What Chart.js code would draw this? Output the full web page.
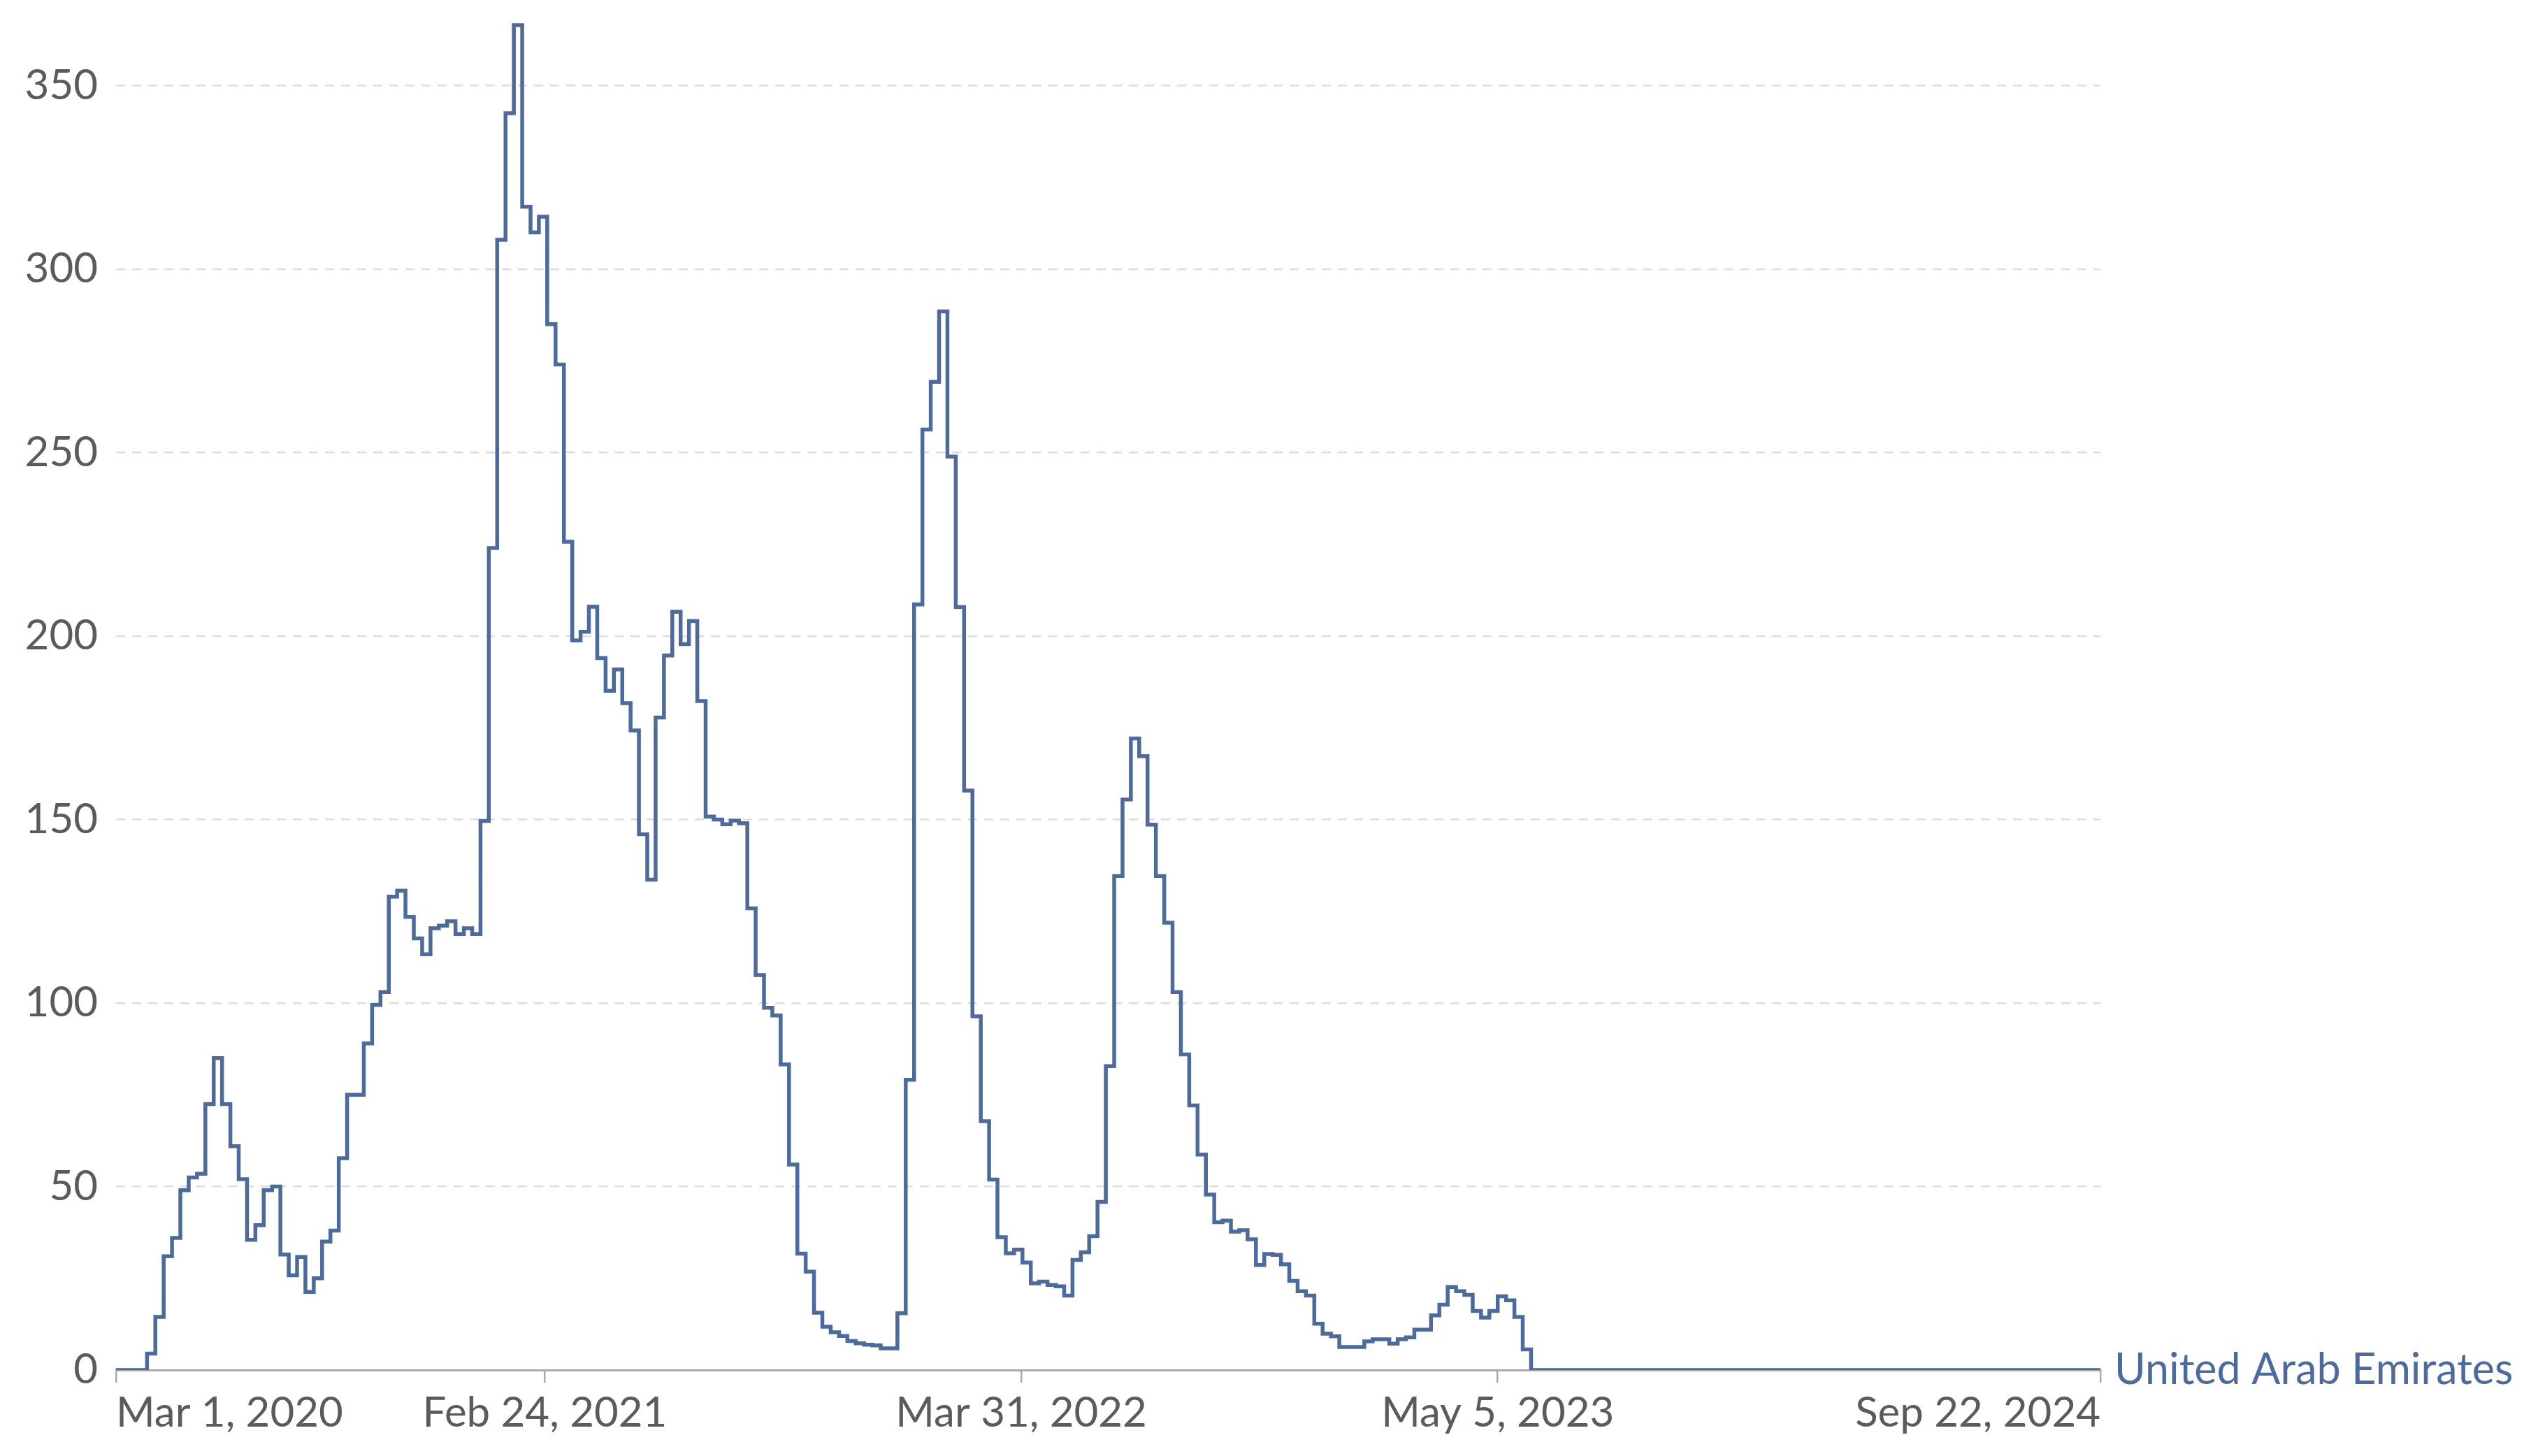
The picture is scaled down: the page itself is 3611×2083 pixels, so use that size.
<!DOCTYPE html>
<html>
<head>
<meta charset="utf-8">
<script src="https://cdn.jsdelivr.net/npm/chart.js@4.4.1/dist/chart.umd.min.js"></script>
<style>
  html, body { margin: 0; padding: 0; background: #ffffff; }
  canvas { display: block; }
</style>
</head>
<body>
<canvas id="chart" width="3611" height="2083"></canvas>
<script>
// ---------- data ----------
const seriesName = 'United Arab Emirates';
const originDate = '2020-03-01';
const firstWeekDate = '2020-03-27';
const endDate = '2024-09-22';
const leadInValue = 0;

const deaths2020 = [4.5, 14.5, 31, 36, 49, 52.5, 53.5, 72.5, 85, 72.5,
  61, 52, 35.5, 39.5, 49, 50, 31.5, 25.8, 30.8, 21.3,
  25, 35, 38, 57.7, 75, 75, 89, 99.5, 103, 129,
  130.6, 123.5, 117.6, 113.3, 120.4, 121.1, 122.3, 118.8, 120.4, 118.8];
const deaths2021 = [149.6, 224, 308, 342.5, 366.5, 317, 310, 314.3, 285, 274,
  225.7, 198.8, 201.2, 208, 194, 185.1, 190.9, 181.7, 174.3, 146,
  133.6, 177.8, 194.7, 206.6, 197.8, 204.1, 182.3, 150.8, 150, 148.7,
  149.7, 149, 125.8, 107.6, 98.7, 96.6, 83.3, 56, 31.7, 26.8,
  15.6, 11.8, 10.3, 9.3, 7.9, 7.3, 6.9, 6.7, 5.9, 5.9,
  15.5, 79.1];
const deaths2022 = [208.6, 256.3, 269.3, 288.5, 248.9, 207.9, 157.9, 96.4, 67.8, 51.9,
  36.2, 31.8, 32.8, 29.3, 23.6, 24.1, 23.2, 22.8, 20.3, 30,
  32.1, 36.5, 45.8, 82.8, 134.6, 155.5, 172.1, 167.3, 148.6, 134.6,
  121.9, 103, 86, 72.1, 58.7, 47.8, 40.3, 40.7, 37.7, 38.1,
  35.6, 28.6, 31.6, 31.4, 28.8, 24.3, 21.5, 20.3, 12.6, 9.9,
  9.2, 6.3];
const deaths2023 = [6.3, 6.3, 7.8, 8.4, 8.4, 7.2, 8.4, 8.9, 11, 11,
  14.9, 17.8, 22.6, 21.5, 20.5, 16.1, 14.3, 16.1, 20.1, 19,
  14.5, 5.6, 0];
const endValue = 0;

const tickDates = ['2020-03-01', '2021-02-24', '2022-03-31', '2023-05-05', '2024-09-22'];
const tickLabels = ['Mar 1, 2020', 'Feb 24, 2021', 'Mar 31, 2022', 'May 5, 2023', 'Sep 22, 2024'];
const yTickValues = [0, 50, 100, 150, 200, 250, 300, 350];

// ---------- helpers ----------
const DAY = 86400000;
const dayOf = d => Math.round((Date.parse(d) - Date.parse(originDate)) / DAY);

const weekly = [...deaths2020, ...deaths2021, ...deaths2022, ...deaths2023];
const firstDay = dayOf(firstWeekDate);
const points = [{ x: 0, y: leadInValue }];
weekly.forEach((v, i) => points.push({ x: firstDay + 7 * i, y: v }));
points.push({ x: dayOf(endDate), y: endValue });

const LINE = '#4C6A9C';
const TEXT = '#5b5b5b';
const FONT = 'Lato, "DejaVu Sans", sans-serif';

const endLabel = {
  id: 'endLabel',
  afterDatasetsDraw(chart) {
    const { ctx, chartArea, scales } = chart;
    const last = points[points.length - 1];
    ctx.save();
    ctx.font = '61px ' + FONT;
    ctx.fillStyle = LINE;
    ctx.textAlign = 'left';
    ctx.textBaseline = 'middle';
    ctx.fillText(seriesName, chartArea.right + 20, scales.y.getPixelForValue(last.y));
    ctx.restore();
  }
};

new Chart(document.getElementById('chart'), {
  type: 'line',
  data: {
    datasets: [{
      label: seriesName,
      data: points,
      borderColor: LINE,
      borderWidth: 5.5,
      pointRadius: 0,
      fill: false,
      tension: 0,
      stepped: 'before',
      borderJoinStyle: 'miter'
    }]
  },
  options: {
    responsive: false,
    devicePixelRatio: 1,
    animation: false,
    layout: { padding: { top: 17.5, right: 606, left: 0, bottom: 0 } },
    plugins: { legend: { display: false }, tooltip: { enabled: false } },
    scales: {
      x: {
        type: 'linear',
        min: 0,
        max: dayOf(endDate),
        afterBuildTicks: s => { s.ticks = tickDates.map(d => ({ value: dayOf(d) })); },
        afterFit: s => { s.height = 123; s.paddingLeft = 0; s.paddingRight = 0; },
        ticks: {
          autoSkip: false,
          maxRotation: 0,
          minRotation: 0,
          align: 'inner',
          padding: 8,
          color: TEXT,
          font: { family: FONT, size: 60 },
          callback: (v, i) => tickLabels[i]
        },
        grid: { drawOnChartArea: false, drawTicks: true, tickLength: 18, color: '#aaaaaa', lineWidth: 2.5 },
        border: { display: true, color: '#aaaaaa', width: 3 }
      },
      y: {
        min: 0,
        max: 370,
        afterBuildTicks: s => { s.ticks = yTickValues.map(v => ({ value: v })); },
        afterFit: s => { s.width = 166; s.paddingTop = 0; s.paddingBottom = 0; },
        ticks: {
          padding: 26,
          color: TEXT,
          font: { family: FONT, size: 60 },
          callback: v => String(v)
        },
        grid: {
          drawTicks: false,
          lineWidth: 2.5,
          color: c => (c.tick && c.tick.value === 0) ? 'rgba(0,0,0,0)' : '#dddddd'
        },
        border: { display: false, dash: [13, 10] }
      }
    }
  },
  plugins: [endLabel]
});
</script>
</body>
</html>
